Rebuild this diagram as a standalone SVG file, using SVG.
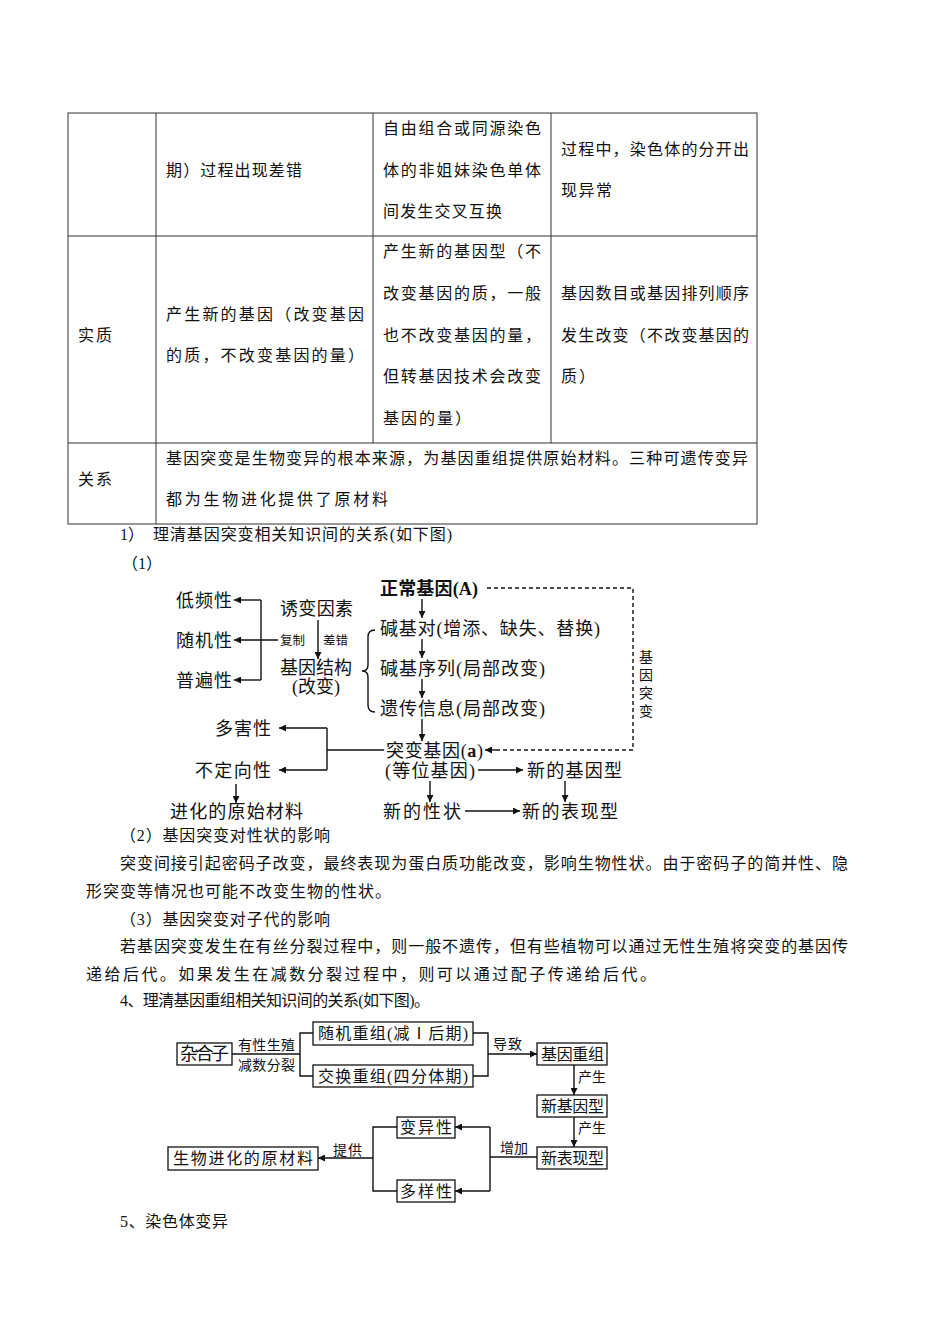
<svg xmlns="http://www.w3.org/2000/svg" width="950" height="1344" viewBox="0 0 950 1344">
<style>
text{font-family:"Liberation Serif","Noto Sans CJK SC",serif;fill:#111;}
.t{font-size:16px;}
.p{font-size:16px;}
.d{font-size:18px;}
.s{font-size:14px;}
.xs{font-size:12.5px;}
.b{font-weight:bold;}
.grid{stroke:#333;stroke-width:1;fill:none;}
.ln{stroke:#111;stroke-width:1.4;fill:none;}
.ar{stroke:#111;stroke-width:1.4;fill:none;marker-end:url(#ah);}
.da{stroke:#111;stroke-width:1.4;fill:none;stroke-dasharray:4 3;}
.bx{stroke:#111;stroke-width:1.3;fill:#fff;}
</style>
<defs>
<marker id="ah" viewBox="0 0 10 10" refX="10" refY="5" markerWidth="9" markerHeight="7" markerUnits="userSpaceOnUse" orient="auto"><path d="M0,0 L10,5 L0,10 z" fill="#111"/></marker>
</defs>
<rect width="950" height="1344" fill="#fff"/>

<g id="table">
<rect class="grid" x="68" y="113" width="689" height="411"/>
<line class="grid" x1="156" y1="113" x2="156" y2="524"/>
<line class="grid" x1="373" y1="113" x2="373" y2="443"/>
<line class="grid" x1="551" y1="113" x2="551" y2="443"/>
<line class="grid" x1="68" y1="236" x2="757" y2="236"/>
<line class="grid" x1="68" y1="443" x2="757" y2="443"/>
<text class="t" x="166" y="176" textLength="136" lengthAdjust="spacing">期）过程出现差错</text>
<text class="t" x="383" y="134" textLength="158" lengthAdjust="spacing">自由组合或同源染色</text>
<text class="t" x="383" y="176" textLength="158" lengthAdjust="spacing">体的非姐妹染色单体</text>
<text class="t" x="383" y="217" textLength="119" lengthAdjust="spacing">间发生交叉互换</text>
<text class="t" x="561" y="155" textLength="188" lengthAdjust="spacing">过程中，染色体的分开出</text>
<text class="t" x="561" y="196" textLength="51" lengthAdjust="spacing">现异常</text>
<text class="t" x="78" y="341" textLength="34" lengthAdjust="spacing">实质</text>
<text class="t" x="166" y="320" textLength="198" lengthAdjust="spacing">产生新的基因（改变基因</text>
<text class="t" x="166" y="361" textLength="198" lengthAdjust="spacing">的质，不改变基因的量）</text>
<text class="t" x="383" y="257" textLength="158" lengthAdjust="spacing">产生新的基因型（不</text>
<text class="t" x="383" y="299" textLength="158" lengthAdjust="spacing">改变基因的质，一般</text>
<text class="t" x="383" y="341" textLength="158" lengthAdjust="spacing">也不改变基因的量，</text>
<text class="t" x="383" y="382" textLength="158" lengthAdjust="spacing">但转基因技术会改变</text>
<text class="t" x="383" y="424" textLength="88" lengthAdjust="spacing">基因的量）</text>
<text class="t" x="561" y="299" textLength="188" lengthAdjust="spacing">基因数目或基因排列顺序</text>
<text class="t" x="561" y="341" textLength="188" lengthAdjust="spacing">发生改变（不改变基因的</text>
<text class="t" x="561" y="382" textLength="34" lengthAdjust="spacing">质）</text>
<text class="t" x="78" y="485" textLength="34" lengthAdjust="spacing">关系</text>
<text class="t" x="166" y="464" textLength="582" lengthAdjust="spacing">基因突变是生物变异的根本来源，为基因重组提供原始材料。三种可遗传变异</text>
<text class="t" x="166" y="505" textLength="222" lengthAdjust="spacing">都为生物进化提供了原材料</text>
</g>

<g id="paragraphs">
<text class="p" x="120" y="540">1）</text>
<text class="p" x="153" y="540" textLength="299" lengthAdjust="spacing">理清基因突变相关知识间的关系(如下图)</text>
<text class="p" x="122" y="569">（1）</text>
<text class="p" x="120" y="841" textLength="210" lengthAdjust="spacing">（2）基因突变对性状的影响</text>
<text class="p" x="120" y="869" textLength="728" lengthAdjust="spacing">突变间接引起密码子改变，最终表现为蛋白质功能改变，影响生物性状。由于密码子的简并性、隐</text>
<text class="p" x="86" y="897" textLength="305" lengthAdjust="spacing">形突变等情况也可能不改变生物的性状。</text>
<text class="p" x="120" y="925" textLength="210" lengthAdjust="spacing">（3）基因突变对子代的影响</text>
<text class="p" x="120" y="952" textLength="728" lengthAdjust="spacing">若基因突变发生在有丝分裂过程中，则一般不遗传，但有些植物可以通过无性生殖将突变的基因传</text>
<text class="p" x="86" y="980" textLength="570" lengthAdjust="spacing">递给后代。如果发生在减数分裂过程中，则可以通过配子传递给后代。</text>
<text class="p" x="120" y="1006" textLength="310" lengthAdjust="spacing">4、理清基因重组相关知识间的关系(如下图)。</text>
<text class="p" x="120" y="1227" textLength="108" lengthAdjust="spacing">5、染色体变异</text>
</g>

<g id="d1-connectors">
<line class="ar" x1="261" y1="600" x2="234" y2="600"/>
<line class="ar" x1="278" y1="640" x2="234" y2="640"/>
<line class="ar" x1="261" y1="680" x2="234" y2="680"/>
<line class="ln" x1="261" y1="600" x2="261" y2="680"/>
<line class="ar" x1="318" y1="620" x2="318" y2="659"/>
<line class="ar" x1="422" y1="599" x2="422" y2="618"/>
<line class="ar" x1="422" y1="639" x2="422" y2="658"/>
<line class="ar" x1="422" y1="679" x2="422" y2="698"/>
<line class="ar" x1="422" y1="719" x2="422" y2="741"/>
<path class="ln" d="M375,630 Q368,630 368,637 L368,665 Q368,671 362,671 Q368,671 368,677 L368,705 Q368,712 375,712"/>
<polyline class="da" points="487,588 633,588 633,750 494,750"/>
<line class="ar" x1="496" y1="750" x2="485" y2="750"/>
<line class="ln" x1="384" y1="750" x2="327" y2="750"/>
<line class="ln" x1="327" y1="728" x2="327" y2="770"/>
<line class="ar" x1="327" y1="728" x2="279" y2="728"/>
<line class="ar" x1="327" y1="770" x2="279" y2="770"/>
<line class="ar" x1="236" y1="784" x2="236" y2="803"/>
<line class="ar" x1="478" y1="770" x2="523" y2="770"/>
<line class="ar" x1="430" y1="781" x2="430" y2="802"/>
<line class="ar" x1="565" y1="781" x2="565" y2="802"/>
<line class="ar" x1="465" y1="811" x2="520" y2="811"/>
</g>

<g id="d1-nodes">
<g id="n-dipin"><text class="d" x="176" y="607" textLength="56" lengthAdjust="spacing">低频性</text></g>
<g id="n-suiji"><text class="d" x="176" y="647" textLength="56" lengthAdjust="spacing">随机性</text></g>
<g id="n-pubian"><text class="d" x="176" y="687" textLength="56" lengthAdjust="spacing">普遍性</text></g>
<g id="n-youbian"><text class="d" x="280" y="615" textLength="73" lengthAdjust="spacing">诱变因素</text></g>
<g id="n-fuzhi"><text class="xs" x="280" y="645" textLength="25" lengthAdjust="spacing">复制</text>
<text class="xs" x="323" y="645" textLength="25" lengthAdjust="spacing">差错</text></g>
<g id="n-jiegou"><text class="d" x="280" y="674" textLength="72" lengthAdjust="spacing">基因结构</text>
<text class="d" x="292" y="693" textLength="48" lengthAdjust="spacing">(改变)</text></g>
<g id="n-zhengchang"><text class="d b" x="380" y="595" textLength="98" lengthAdjust="spacing">正常基因(A)</text></g>
<g id="n-jijidui"><text class="d" x="380" y="635" textLength="220" lengthAdjust="spacing">碱基对(增添、缺失、替换)</text></g>
<g id="n-xulie"><text class="d" x="380" y="675" textLength="165" lengthAdjust="spacing">碱基序列(局部改变)</text></g>
<g id="n-yichuan"><text class="d" x="380" y="715" textLength="165" lengthAdjust="spacing">遗传信息(局部改变)</text></g>
<g id="n-label-tubian"><text class="s" x="646" y="662" text-anchor="middle">基</text>
<text class="s" x="646" y="680" text-anchor="middle">因</text>
<text class="s" x="646" y="698" text-anchor="middle">突</text>
<text class="s" x="646" y="716" text-anchor="middle">变</text></g>
<g id="n-duohai"><text class="d" x="215" y="735" textLength="56" lengthAdjust="spacing">多害性</text></g>
<g id="n-budingxiang"><text class="d" x="195" y="777" textLength="76" lengthAdjust="spacing">不定向性</text></g>
<g id="n-tubianjiyin"><text class="d" x="386" y="757" textLength="97" lengthAdjust="spacing">突变基因(<tspan font-weight="bold">a</tspan>)</text>
<text class="d" x="385" y="777" textLength="90" lengthAdjust="spacing">(等位基因)</text></g>
<g id="n-xinjiyinxing"><text class="d" x="527" y="777" textLength="95" lengthAdjust="spacing">新的基因型</text></g>
<g id="n-jinhua"><text class="d" x="170" y="818" textLength="133" lengthAdjust="spacing">进化的原始材料</text></g>
<g id="n-xingzhuang"><text class="d" x="383" y="818" textLength="78" lengthAdjust="spacing">新的性状</text></g>
<g id="n-biaoxianxing"><text class="d" x="522" y="818" textLength="96" lengthAdjust="spacing">新的表现型</text></g>
</g>

<g id="d2-connectors">
<line class="ln" x1="232" y1="1054" x2="300" y2="1054"/>
<polyline class="ln" points="313,1033 300,1033 300,1076 313,1076"/>
<polyline class="ln" points="473,1033 488,1033 488,1076 473,1076"/>
<line class="ar" x1="488" y1="1054" x2="537" y2="1054"/>
<line class="ar" x1="574" y1="1065" x2="574" y2="1095"/>
<line class="ar" x1="574" y1="1117" x2="574" y2="1147"/>
<line class="ln" x1="537" y1="1157" x2="490" y2="1157"/>
<line class="ln" x1="490" y1="1127" x2="490" y2="1191"/>
<line class="ar" x1="490" y1="1127" x2="455" y2="1127"/>
<line class="ar" x1="490" y1="1191" x2="455" y2="1191"/>
<polyline class="ln" points="397,1127 373,1127 373,1191 397,1191"/>
<line class="ar" x1="373" y1="1158" x2="318" y2="1158"/>
</g>

<g id="d2-nodes">
<g id="m-zaheizi"><rect class="bx" x="177" y="1043" width="55" height="22"/><text class="d" x="180" y="1060" textLength="49" lengthAdjust="spacing">杂合子</text></g>
<g id="m-label1"><text class="s" x="238" y="1050" textLength="57" lengthAdjust="spacing">有性生殖</text>
<text class="s" x="238" y="1070" textLength="57" lengthAdjust="spacing">减数分裂</text></g>
<g id="m-suiji"><rect class="bx" x="313" y="1022" width="160" height="23"/><text class="t" x="318" y="1039" textLength="150" lengthAdjust="spacing">随机重组(减Ⅰ后期)</text></g>
<g id="m-jiaohuan"><rect class="bx" x="313" y="1065" width="160" height="22"/><text class="t" x="318" y="1082" textLength="150" lengthAdjust="spacing">交换重组(四分体期)</text></g>
<g id="m-daozhi"><text class="s" x="493" y="1049" textLength="29" lengthAdjust="spacing">导致</text></g>
<g id="m-chongzu"><rect class="bx" x="537" y="1043" width="70" height="22"/><text class="t" x="541" y="1060" textLength="63" lengthAdjust="spacing">基因重组</text></g>
<g id="m-chan1"><text class="s" x="578" y="1082" textLength="28" lengthAdjust="spacing">产生</text></g>
<g id="m-xinjiyin"><rect class="bx" x="537" y="1095" width="70" height="22"/><text class="t" x="541" y="1112" textLength="63" lengthAdjust="spacing">新基因型</text></g>
<g id="m-chan2"><text class="s" x="578" y="1133" textLength="28" lengthAdjust="spacing">产生</text></g>
<g id="m-xinbiao"><rect class="bx" x="537" y="1147" width="70" height="22"/><text class="t" x="541" y="1164" textLength="63" lengthAdjust="spacing">新表现型</text></g>
<g id="m-zengjia"><text class="s" x="500" y="1153" textLength="28" lengthAdjust="spacing">增加</text></g>
<g id="m-bianyi"><rect class="bx" x="397" y="1117" width="58" height="21"/><text class="t" x="400" y="1133" textLength="52" lengthAdjust="spacing">变异性</text></g>
<g id="m-duoyang"><rect class="bx" x="397" y="1180" width="58" height="22"/><text class="t" x="400" y="1197" textLength="52" lengthAdjust="spacing">多样性</text></g>
<g id="m-tigong"><text class="s" x="333" y="1155" textLength="29" lengthAdjust="spacing">提供</text></g>
<g id="m-yuancailiao"><rect class="bx" x="168" y="1147" width="150" height="23"/><text class="t" x="173" y="1164" textLength="140" lengthAdjust="spacing">生物进化的原材料</text></g>
</g>
</svg>
